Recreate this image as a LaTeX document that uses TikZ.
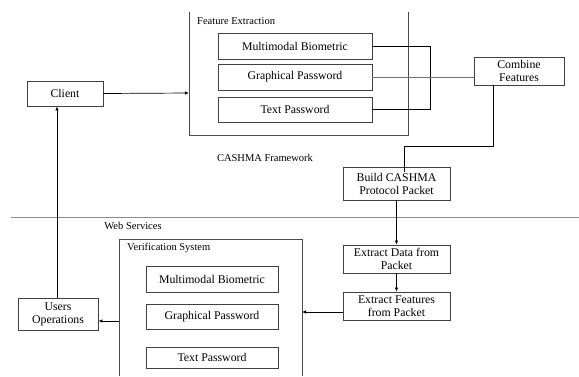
\documentclass[tikz,border=0pt]{standalone}
\usepackage{fontspec}
\setmainfont{Liberation Serif}
\usetikzlibrary{arrows.meta}

\begin{document}
\begin{tikzpicture}[
  x=1pt, y=1pt,
  font=\fontsize{11.8}{13}\selectfont,
  box/.style={
    draw=black!75,
    line width=0.8pt,
    inner sep=1pt,
    align=center
  },
  wide box/.style={
    box,
    minimum width=154pt,
    minimum height=26pt
  },
  small box/.style={
    box,
    minimum width=107pt,
    minimum height=28pt
  },
  frame/.style={
    draw=black!70,
    line width=0.8pt
  },
  link/.style={
    draw,
    line width=0.7pt,
    -{Latex[length=4pt,width=3.5pt]}
  },
  label/.style={
    font=\fontsize{10.5}{12}\selectfont,
    inner sep=0pt
  },
]
\useasboundingbox (0,0) rectangle (579,-376);

% upper part: framework
\draw[frame] (189,-12) -- (189,-135) -- (408,-135) -- (408,-12);
\coordinate (featW) at (189,-93);
\node[label, anchor=west] (featlbl) at (197,-21) {Feature Extraction};
\node[wide box] (mmA) at (295,-46) {Multimodal Biometric};
\node[wide box] (gpA) at (295,-77) {Graphical Password};
\node[wide box, minimum height=25pt] (tpA) at (295,-109.5) {Text Password};

\node[box, minimum width=76pt, minimum height=25pt] (client) at (65,-93.5) {Client};
\node[box, minimum width=90pt, minimum height=28pt] (combine) at (519,-71) {Combine\\Features};
\node[small box, minimum height=33pt] (build) at (396.5,-183.5) {Build CASHMA\\Protocol Packet};
\node[label] (cashma) at (265,-158) {CASHMA Framework};

\draw[link] (client.east) -- (featW);
\draw[line width=0.7pt] (mmA.east) -- (430,-46) |- (tpA.east);
\draw[line width=0.7pt, black!55] (gpA.east) -- (gpA.east -| combine.west);
\coordinate (buildin) at ([xshift=7.5pt,yshift=-5pt]build.north);
\draw[line width=0.7pt] ([xshift=-26pt]combine.south) |- (404,-146) -- (buildin);

% separator
\draw[black!45, line width=0.8pt] (11,-217) -- (579,-217);
\node[label] (websrv) at (133,-226) {Web Services};

% lower part: web services
\draw[frame] (119,-376) -- (119,-239) -- (302,-239) -- (302,-376);
\coordinate (verifW) at (119,-321);
\coordinate (verifE) at (302,-312);
\node[label, anchor=west] (veriflbl) at (127,-248) {Verification System};
\node[box, minimum width=132pt, minimum height=26pt] (mmB) at (212,-279) {Multimodal Biometric};
\node[box, minimum width=132pt, minimum height=25pt] (gpB) at (212,-316.5) {Graphical Password};
\node[box, minimum width=132pt, minimum height=21pt] (tpB) at (212,-357.5) {Text Password};

\node[small box] (extdata) at (396.5,-259) {Extract Data from\\Packet};
\node[small box] (extfeat) at (396.5,-306) {Extract Features\\from Packet};
\node[box, minimum width=80pt, minimum height=32pt] (users) at (58,-314) {Users\\Operations};

\draw[link] (build.south) -- (extdata.north);
\draw[link] (extdata.south) -- (extfeat.north);
\draw[link] (extfeat.west |- verifE) -- (verifE);
\draw[link] (verifW) -- (users.east |- verifW);
\draw[link] (users.north -| 57,0) -- (client.south -| 57,0);
\end{tikzpicture}
\end{document}
